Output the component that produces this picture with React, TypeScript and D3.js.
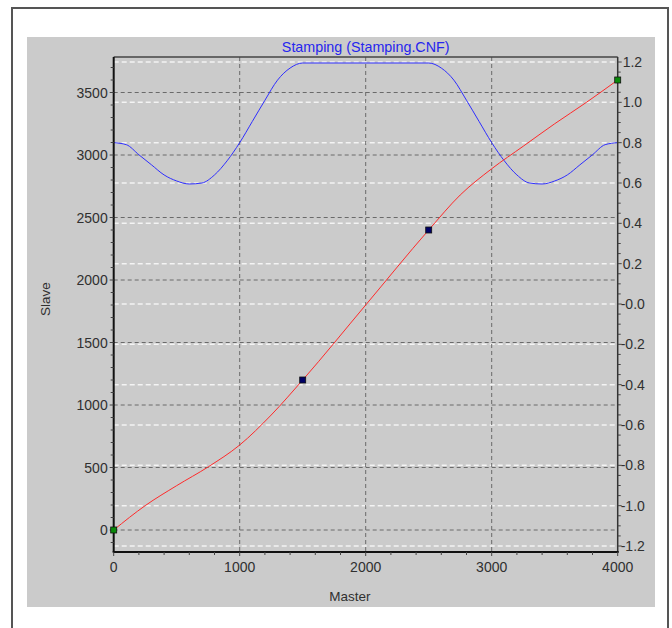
import React, { useEffect } from 'react'
import * as d3 from 'd3'

// master positions and values
const masterPos = [0, 250, 500, 750, 1000, 1250, 1500, 2000, 2500, 2750, 3000, 3250, 3500, 3750, 4000]
const slavePos = [0, 195, 355, 505, 680, 920, 1200, 1800, 2400, 2680, 2890, 3070, 3250, 3420, 3600]

const masterVel = [0, 100, 200, 300, 400, 500, 600, 700, 800, 900, 1000, 1100, 1200, 1300, 1400, 1500,
  2500, 2600, 2700, 2800, 2900, 3000, 3100, 3200, 3300, 3400, 3500, 3600, 3700, 3800, 3900, 4000]
const slaveVel = [0.8, 0.79, 0.74, 0.69, 0.64, 0.61, 0.595, 0.6, 0.64, 0.71, 0.8, 0.905, 1.01, 1.11, 1.17, 1.195,
  1.195, 1.17, 1.11, 1.01, 0.905, 0.8, 0.71, 0.64, 0.6, 0.595, 0.61, 0.64, 0.69, 0.74, 0.79, 0.8]

const keyMaster = [0, 1500, 2500, 4000]
const keySlave = [0, 1200, 2400, 3600]
const keyColor = ['#0a8a0a', '#000066', '#000066', '#0a8a0a']

const xTicks = [0, 1000, 2000, 3000, 4000]
const leftTicks = [0, 500, 1000, 1500, 2000, 2500, 3000, 3500]
const rightTicks = [1.2, 1.0, 0.8, 0.6, 0.4, 0.2, 0, -0.2, -0.4, -0.6, -0.8, -1.0, -1.2]
const rightLabels = ['1.2', '1.0', '0.8', '0.6', '0.4', '0.2', '-0.0', '-0.2', '-0.4', '-0.6', '-0.8', '-1.0', '-1.2']

const title = 'Stamping (Stamping.CNF)'

const App = () => {
  useEffect(() => {
    document.body.style.margin = '0'
  }, [])

  const left = 113.7, right = 617.7, top = 57, bottom = 552
  const x = d3.scaleLinear().domain([0, 4000]).range([left, right])
  const yL = d3.scaleLinear().domain([0, 3500]).range([530, 92.5])
  const yR = d3.scaleLinear().domain([-1.2, 1.2]).range([546, 62])

  const posLine = d3.line<number>().x((d, i) => x(masterPos[i])).y(d => yL(d)).curve(d3.curveMonotoneX)
  const velLine = d3.line<number>().x((d, i) => x(masterVel[i])).y(d => yR(d)).curve(d3.curveMonotoneX)

  const leftMinor = d3.range(-100, 3701, 100)
  const rightMinor = d3.range(-24, 25, 1).map(v => v * 0.05)
  const xMinor = d3.range(0, 4001, 200)

  const font = 'Liberation Sans, Arial, sans-serif'
  const txt = '#303030'

  return (
    <svg width={672} height={628} style={{ display: 'block' }}>
      <rect x={0} y={0} width={672} height={628} fill="#fff" />
      <rect x={12} y={8} width={656} height={700} fill="none" stroke="#555" strokeWidth={2} />
      <rect x={27} y={37} width={628} height={570} fill="#cbcbcb" />

      {/* grid */}
      {leftTicks.map(t => (
        <line key={'gl' + t} x1={left} x2={right} y1={yL(t)} y2={yL(t)} stroke="#6a6a6a" strokeDasharray="4,3" />
      ))}
      {rightTicks.map(t => (
        <line key={'gr' + t} x1={left} x2={right} y1={yR(t)} y2={yR(t)} stroke="#f4f4f4" strokeWidth={1.5} strokeDasharray="5,3" />
      ))}
      {xTicks.slice(1, -1).map(t => (
        <line key={'gx' + t} x1={x(t)} x2={x(t)} y1={top} y2={bottom} stroke="#6a6a6a" strokeDasharray="4,3" />
      ))}

      {/* curves */}
      <path d={velLine(slaveVel) || ''} fill="none" stroke="#2e2eff" strokeWidth={1} />
      <path d={posLine(slavePos) || ''} fill="none" stroke="#ff2a2a" strokeWidth={1} />

      {/* frame + axes */}
      <line x1={left} x2={right} y1={top} y2={top} stroke="#444" strokeWidth={1.5} />
      <line x1={left} x2={left} y1={top} y2={bottom} stroke="#111" strokeWidth={2} />
      <line x1={right} x2={right} y1={top} y2={bottom} stroke="#333" strokeWidth={1.5} />
      <line x1={left - 1} x2={right + 1} y1={bottom} y2={bottom} stroke="#111" strokeWidth={2} />

      {leftMinor.map(t => (
        <line key={'lm' + t} x1={left - (t % 500 === 0 ? 4 : 3)} x2={left} y1={yL(t)} y2={yL(t)} stroke="#444" />
      ))}
      {rightMinor.map((t, i) => (
        <line key={'rm' + i} x1={right} x2={right + (i % 4 === 0 ? 4 : 3)} y1={yR(t)} y2={yR(t)} stroke="#444" />
      ))}
      {xMinor.map(t => (
        <line key={'xm' + t} x1={x(t)} x2={x(t)} y1={bottom} y2={bottom + (t % 1000 === 0 ? 4 : 3)} stroke="#444" />
      ))}

      {leftTicks.map(t => (
        <text key={'lt' + t} x={left - 6} y={yL(t)} dy="0.36em" textAnchor="end" fontFamily={font} fontSize={14} fill={txt}>{t}</text>
      ))}
      {rightTicks.map((t, i) => (
        <text key={'rt' + i} x={rightLabels[i].startsWith('-') ? right + 3 : right + 5} y={yR(t)} dy="0.36em" fontFamily={font} fontSize={14} fill={txt}>{rightLabels[i]}</text>
      ))}
      {xTicks.map(t => (
        <text key={'xt' + t} x={x(t)} y={572} textAnchor="middle" fontFamily={font} fontSize={14} fill={txt}>{t}</text>
      ))}

      {/* markers */}
      {keyMaster.map((m, i) => (
        <rect key={'k' + i} x={x(m) - 3} y={yL(keySlave[i]) - 3} width={6} height={6} fill={keyColor[i]} stroke="#111" strokeWidth={0.8} />
      ))}

      <text x={(left + right) / 2} y={52} textAnchor="middle" fontFamily={font} fontSize={14.3} fill="#2626ee">{title}</text>
      <text x={350} y={601} textAnchor="middle" fontFamily={font} fontSize={13.5} fill={txt}>Master</text>
      <text transform="translate(50,299) rotate(-90)" textAnchor="middle" fontFamily={font} fontSize={13.5} fill={txt}>Slave</text>
    </svg>
  )
}

export default App
